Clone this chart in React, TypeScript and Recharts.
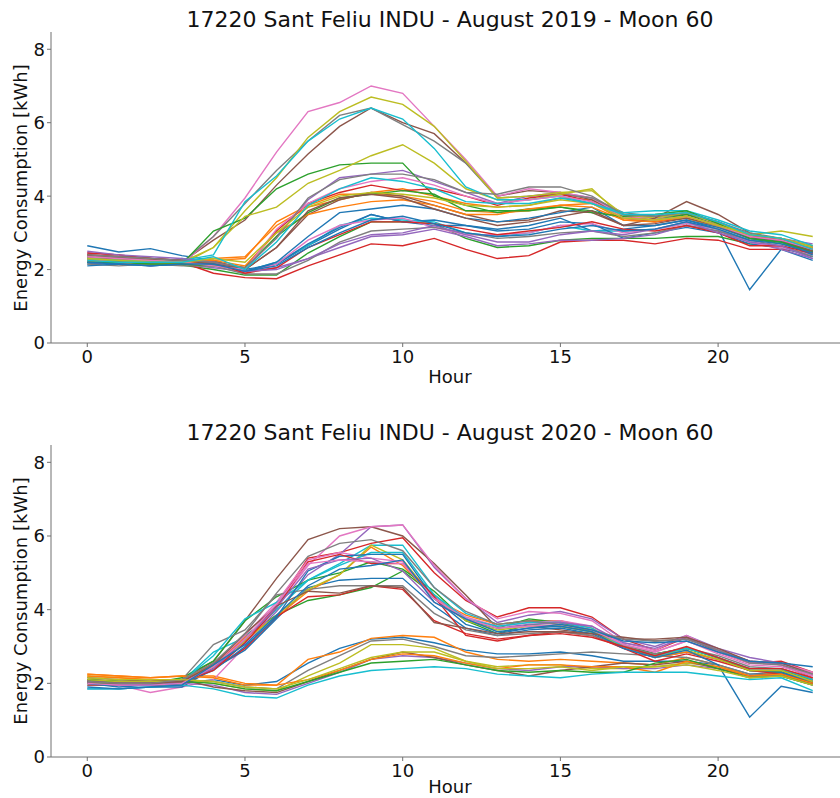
import { LineChart, Line, XAxis, YAxis } from "recharts";

const hours = [0, 1, 2, 3, 4, 5, 6, 7, 8, 9, 10, 11, 12, 13, 14, 15, 16, 17, 18, 19, 20, 21, 22, 23];
const xTicks = [0, 5, 10, 15, 20];
const yTicks = [0, 2, 4, 6, 8];
const tab10 = ["#1f77b4", "#ff7f0e", "#2ca02c", "#d62728", "#9467bd", "#8c564b", "#e377c2", "#7f7f7f", "#bcbd22", "#17becf"];

// one row per day of August, 24 hourly readings each
const aug2019 = [
  [2.65,2.48,2.57,2.38,2.25,1.95,2.15,2.65,3.1,3.5,3.3,3.35,3.2,3.1,3.2,3.4,3.05,3.1,3.2,3.35,3.1,1.45,2.55,2.25],
  [2.3,2.25,2.2,2.15,2.3,2.35,3.2,3.7,3.9,4.1,4.2,4.0,3.8,3.7,3.75,3.95,3.9,3.45,3.35,3.4,3.15,2.85,2.8,2.6],
  [2.2,2.18,2.15,2.12,2.0,1.85,1.85,2.45,2.9,3.3,3.3,3.25,2.85,2.6,2.65,2.8,2.85,2.85,2.85,2.9,2.9,2.7,2.6,2.4],
  [2.35,2.3,2.25,2.2,1.9,1.78,1.75,2.1,2.4,2.7,2.65,2.85,2.55,2.3,2.38,2.75,2.8,2.8,2.7,2.85,2.8,2.55,2.55,2.45],
  [2.45,2.4,2.3,2.25,2.2,2.0,2.9,3.9,4.5,4.6,4.7,4.4,4.1,3.8,4.0,4.1,3.95,3.5,3.4,3.5,3.3,2.95,2.85,2.7],
  [2.4,2.35,2.3,2.2,2.8,3.35,4.3,5.15,5.9,6.4,6.0,5.7,4.9,4.0,4.15,4.1,3.9,3.5,3.45,3.55,3.3,2.9,2.75,2.55],
  [2.3,2.25,2.2,2.15,2.9,3.95,5.2,6.3,6.55,7.0,6.8,5.9,5.0,4.0,4.2,4.1,3.95,3.45,3.4,3.45,3.25,2.9,2.8,2.6],
  [2.35,2.3,2.25,2.2,2.9,3.8,4.7,5.5,6.2,6.4,5.95,5.5,4.9,3.95,4.0,4.05,3.95,3.55,3.45,3.5,3.3,2.95,2.8,2.55],
  [2.3,2.25,2.2,2.15,2.6,3.6,4.5,5.6,6.3,6.7,6.5,5.9,4.95,3.95,4.0,4.1,4.15,3.5,3.4,3.55,3.25,2.95,2.85,2.65],
  [2.2,2.2,2.15,2.3,2.2,1.95,2.2,2.65,3.2,3.4,3.35,3.3,3.0,2.9,3.0,3.2,3.05,3.05,3.1,3.25,3.1,2.8,2.75,2.5],
  [2.15,2.2,2.1,2.15,2.25,2.0,2.15,2.7,3.15,3.5,3.3,3.2,3.2,3.05,3.1,3.3,3.25,2.85,3.0,3.15,3.0,2.7,2.6,2.35],
  [2.25,2.2,2.25,2.2,2.25,2.3,3.3,3.75,4.05,4.05,4.0,3.85,3.6,3.55,3.6,3.75,3.8,3.35,3.3,3.45,3.2,2.9,2.8,2.55],
  [2.3,2.25,2.25,2.15,3.05,3.4,4.2,4.6,4.85,4.9,4.9,4.0,3.75,3.55,3.65,3.7,3.6,3.4,3.35,3.5,3.2,2.85,2.7,2.5],
  [2.4,2.35,2.3,2.25,2.2,2.05,3.05,3.8,4.1,4.3,4.15,4.2,4.0,3.75,3.95,4.05,3.85,3.4,3.3,3.4,3.2,2.85,2.8,2.6],
  [2.2,2.15,2.15,2.15,2.05,1.95,2.05,2.3,2.6,2.9,2.95,3.1,2.9,2.65,2.7,2.8,2.8,2.85,2.95,3.2,3.05,2.75,2.55,2.3],
  [2.3,2.3,2.25,2.15,2.1,2.0,2.6,3.5,3.9,4.1,4.0,3.75,3.5,3.3,3.35,3.6,3.55,3.2,3.4,3.85,3.5,3.0,2.8,2.45],
  [2.25,2.2,2.1,2.2,2.15,1.9,2.15,2.8,3.2,3.35,3.4,3.15,2.95,2.95,3.0,3.2,3.25,3.0,3.1,3.25,3.1,2.75,2.6,2.4],
  [2.15,2.1,2.15,2.1,2.1,1.88,1.88,2.25,2.75,3.05,3.1,3.15,3.0,2.85,2.9,3.0,3.05,2.9,3.0,3.2,3.05,2.8,2.65,2.35],
  [2.3,2.25,2.25,2.2,2.6,3.45,3.7,4.35,4.7,5.1,5.4,4.9,4.2,3.9,3.9,4.05,4.2,3.4,3.35,3.4,3.2,2.95,3.05,2.9],
  [2.3,2.25,2.2,2.25,2.4,3.85,4.55,5.5,6.1,6.4,6.1,5.3,4.25,3.9,3.9,4.0,3.8,3.55,3.6,3.6,3.35,3.05,2.95,2.65],
  [2.1,2.15,2.1,2.15,2.15,1.95,2.2,2.9,3.55,3.65,3.75,3.65,3.4,3.3,3.4,3.55,3.7,3.2,3.2,3.35,3.15,2.85,2.75,2.4],
  [2.25,2.2,2.2,2.15,2.25,2.1,3.0,3.5,3.7,3.85,3.9,3.75,3.5,3.5,3.65,3.75,3.7,3.35,3.3,3.45,3.2,2.9,2.85,2.55],
  [2.2,2.2,2.15,2.15,2.1,2.05,2.9,3.55,3.95,4.05,4.15,4.05,3.6,3.6,3.6,3.7,3.55,3.45,3.5,3.6,3.25,2.85,2.75,2.5],
  [2.45,2.4,2.3,2.25,2.2,1.9,2.05,2.6,2.95,3.3,3.3,3.25,3.1,2.95,3.05,3.15,3.3,3.1,3.05,3.2,3.0,2.65,2.65,2.45],
  [2.5,2.4,2.35,2.3,2.2,1.95,2.0,2.3,2.7,2.95,3.0,3.2,2.95,2.75,2.75,2.95,3.05,2.95,3.1,3.3,3.0,2.75,2.65,2.3],
  [2.4,2.35,2.3,2.25,2.15,2.0,2.6,3.6,3.95,4.05,3.95,3.65,3.4,3.2,3.3,3.45,3.6,3.2,3.25,3.4,3.2,2.9,2.8,2.5],
  [2.35,2.3,2.25,2.2,2.1,2.0,3.1,3.8,4.2,4.4,4.5,4.3,4.0,3.8,3.9,4.0,3.85,3.4,3.35,3.45,3.2,2.9,2.8,2.55],
  [2.4,2.35,2.3,2.25,2.2,2.05,2.85,3.95,4.45,4.6,4.6,4.45,4.1,4.05,4.25,4.25,4.0,3.5,3.45,3.55,3.3,3.0,2.85,2.6],
  [2.3,2.25,2.2,2.2,2.3,2.2,3.0,3.7,4.0,4.1,4.05,3.95,3.75,3.7,3.75,3.9,3.8,3.4,3.35,3.45,3.2,2.95,2.85,2.6],
  [2.25,2.2,2.2,2.2,2.35,2.0,2.75,3.75,4.2,4.5,4.4,4.2,3.85,3.8,3.8,3.95,3.8,3.5,3.5,3.55,3.3,2.95,2.85,2.55],
  [2.2,2.15,2.1,2.15,2.15,1.95,2.1,2.6,3.0,3.35,3.45,3.25,3.0,2.9,2.95,3.1,3.2,3.05,3.1,3.3,3.1,2.8,2.7,2.45],
];

const aug2020 = [
  [2.05,2.0,1.95,2.0,2.1,1.95,2.05,2.55,2.95,3.2,3.25,3.1,2.9,2.8,2.8,2.85,2.75,2.6,2.6,2.6,2.5,2.25,2.3,2.05],
  [2.25,2.2,2.15,2.2,2.2,2.0,1.95,2.65,2.85,3.22,3.3,3.25,2.85,2.65,2.6,2.65,2.6,2.55,2.5,2.7,2.5,2.2,2.3,2.05],
  [2.1,2.05,2.05,2.1,2.45,3.3,3.85,4.25,4.4,4.6,5.05,4.4,3.7,3.35,3.6,3.55,3.4,3.05,2.8,2.95,2.7,2.35,2.3,2.0],
  [2.0,1.95,1.95,2.0,2.55,3.2,4.1,5.4,5.55,5.8,5.95,5.0,4.25,3.8,4.05,4.05,3.8,3.2,2.9,3.25,2.85,2.55,2.6,2.3],
  [2.05,2.0,2.0,2.1,2.4,3.1,3.95,4.95,5.5,6.25,6.3,5.15,4.3,3.65,3.85,3.95,3.75,3.2,3.0,3.3,2.95,2.7,2.55,2.25],
  [2.1,2.05,2.05,2.1,2.6,3.7,4.85,5.9,6.2,6.25,6.0,5.25,4.4,3.5,3.55,3.45,3.35,3.25,3.15,3.2,2.9,2.6,2.5,2.15],
  [2.0,1.95,1.75,1.9,2.1,3.0,4.1,5.2,6.0,6.25,6.3,5.2,4.3,3.75,3.95,3.9,3.7,3.1,2.9,3.3,2.9,2.6,2.55,2.3],
  [2.1,2.05,2.05,2.1,2.05,1.9,1.85,2.35,2.75,3.15,3.2,3.0,2.75,2.7,2.75,2.8,2.85,2.8,2.75,2.7,2.5,2.25,2.25,2.1],
  [2.2,2.15,2.1,2.1,2.0,1.85,1.8,2.2,2.55,3.05,3.05,2.95,2.6,2.45,2.5,2.5,2.4,2.4,2.45,2.55,2.45,2.2,2.2,2.0],
  [1.95,1.95,2.0,2.05,2.85,3.25,4.0,4.8,5.25,5.75,5.75,4.6,3.9,3.6,3.7,3.65,3.45,3.0,2.75,2.95,2.7,2.4,2.4,2.1],
  [1.85,1.85,1.9,1.9,2.4,2.9,3.75,4.6,4.8,4.85,4.85,4.1,3.5,3.3,3.45,3.5,3.35,2.95,2.7,2.85,2.65,2.35,2.3,2.05],
  [2.2,2.15,2.1,2.1,2.5,3.25,3.8,4.5,4.95,5.7,5.2,4.3,3.85,3.6,3.7,3.7,3.5,3.0,2.7,2.85,2.65,2.4,2.4,2.15],
  [2.1,2.05,2.0,2.15,2.6,3.7,4.35,4.8,5.0,5.3,5.1,4.5,3.7,3.5,3.75,3.65,3.4,3.05,2.8,2.95,2.7,2.35,2.35,2.1],
  [1.95,1.95,1.95,1.95,2.4,2.95,3.8,4.35,4.4,4.65,4.55,3.7,3.35,3.2,3.3,3.4,3.3,2.95,2.6,2.8,2.6,2.35,2.25,2.0],
  [2.0,1.95,1.95,2.0,1.95,1.75,1.7,2.0,2.3,2.65,2.75,2.7,2.55,2.4,2.35,2.45,2.45,2.4,2.4,2.5,2.4,2.2,2.2,1.95],
  [2.15,2.1,2.05,2.1,1.9,1.8,1.75,2.05,2.35,2.65,2.85,2.7,2.5,2.35,2.2,2.35,2.45,2.55,2.5,2.6,2.4,2.2,2.25,2.0],
  [2.05,2.0,2.05,2.0,2.5,3.3,4.2,5.35,5.55,5.4,5.3,4.35,3.8,3.55,3.65,3.7,3.55,3.05,2.85,3.15,2.8,2.5,2.45,2.2],
  [2.0,2.0,2.0,2.1,3.05,3.45,4.4,4.55,4.65,4.65,4.65,3.9,3.45,3.3,3.35,3.4,3.3,3.0,2.8,2.95,2.75,2.45,2.4,2.1],
  [2.1,2.05,2.05,2.05,2.45,3.15,3.85,4.55,4.95,5.75,5.35,4.3,3.7,3.45,3.55,3.55,3.4,3.0,2.75,2.9,2.65,2.35,2.35,2.05],
  [2.05,2.0,2.0,2.05,2.75,3.75,4.2,4.8,5.2,5.55,5.55,4.4,3.75,3.55,3.65,3.65,3.5,3.0,2.75,2.95,2.7,2.4,2.4,2.1],
  [2.0,1.9,1.95,2.0,2.35,3.0,3.8,5.05,5.45,5.5,5.5,4.3,3.6,3.35,3.5,3.55,3.4,2.95,2.7,2.9,2.5,1.08,1.92,1.75],
  [2.25,2.2,2.15,2.2,2.15,1.95,1.95,2.1,2.35,2.65,2.8,2.75,2.55,2.4,2.5,2.5,2.45,2.45,2.3,2.6,2.45,2.2,2.25,2.0],
  [2.0,2.0,2.0,2.05,2.0,1.85,1.8,2.05,2.3,2.55,2.6,2.65,2.5,2.35,2.3,2.35,2.3,2.3,2.55,2.65,2.4,2.15,2.2,1.95],
  [2.05,2.0,2.0,2.05,2.35,3.1,4.05,5.3,5.5,5.25,5.25,4.35,3.3,3.15,3.3,3.35,3.25,3.0,2.75,3.0,2.7,2.4,2.4,2.15],
  [2.05,2.0,2.0,2.05,2.4,3.2,4.05,5.1,5.35,5.4,5.05,4.2,3.75,3.5,3.6,3.65,3.55,3.1,2.95,3.25,2.9,2.6,2.5,2.2],
  [2.05,2.0,2.0,2.05,2.5,3.35,4.1,4.5,4.45,4.65,4.6,3.65,3.5,3.35,3.4,3.4,3.35,3.2,3.2,3.25,2.95,2.6,2.55,2.25],
  [2.0,1.95,1.95,2.0,2.45,3.2,4.15,5.25,5.35,5.3,5.25,4.3,3.75,3.5,3.55,3.6,3.45,3.05,2.85,3.15,2.85,2.55,2.5,2.2],
  [2.05,2.0,2.0,2.1,2.55,3.35,4.45,5.45,5.8,5.9,5.6,4.6,3.95,3.6,3.7,3.6,3.45,3.2,3.15,3.2,2.9,2.55,2.5,2.25],
  [2.15,2.1,2.1,2.1,2.05,1.9,1.85,2.1,2.4,2.7,2.85,2.85,2.6,2.4,2.4,2.45,2.35,2.45,2.45,2.5,2.35,2.15,2.2,1.95],
  [1.85,1.85,1.9,1.95,1.85,1.65,1.6,1.95,2.2,2.35,2.4,2.45,2.4,2.25,2.2,2.15,2.25,2.3,2.3,2.3,2.2,2.1,2.15,1.8],
  [1.9,1.85,1.9,1.95,2.5,3.05,3.85,4.65,5.1,5.2,5.35,4.2,3.75,3.4,3.5,3.6,3.45,3.15,3.1,3.15,2.85,2.6,2.55,2.45],
];

const FONT = "'DejaVu Sans', sans-serif";
const AXIS = "#707070";

function toRows(days: number[][]) {
  return hours.map((h, i) => {
    const row: Record<string, number> = { hour: h };
    days.forEach((d, j) => { row["d" + j] = d[i]; });
    return row;
  });
}

function Panel({ title, days, top, height, mTop, mBottom, titleY, hourY }:
  { title: string; days: number[][]; top: number; height: number; mTop: number; mBottom: number; titleY: number; hourY: number }) {
  const rows = toRows(days);
  const plotMid = (mTop + (height - mBottom - 30)) / 2;
  const txt = { position: "absolute" as const, fontFamily: FONT, color: "#111", whiteSpace: "nowrap" as const, lineHeight: 1 };
  return (
    <div style={{ position: "absolute", left: 0, top, width: 840, height, overflow: "hidden" }}>
      <LineChart width={860} height={height} data={rows} margin={{ top: mTop, right: 11, bottom: mBottom, left: 0 }}>
        <XAxis dataKey="hour" type="number" domain={[-1.15, 24.15]} ticks={xTicks} allowDataOverflow
          stroke={AXIS} tickSize={4} tickMargin={3} height={30}
          tick={{ fill: "#111", fontSize: 18, fontFamily: FONT }} />
        <XAxis xAxisId="top" orientation="top" type="number" domain={[-1.15, 24.15]} tick={false} tickLine={false} height={0} stroke={AXIS} />
        <YAxis type="number" domain={[0, 8.47]} ticks={yTicks} allowDataOverflow width={51}
          stroke={AXIS} tickSize={4} tickMargin={2}
          tick={{ fill: "#111", fontSize: 18, fontFamily: FONT }} />
        {days.map((_, j) => (
          <Line key={j} dataKey={"d" + j} stroke={tab10[j % 10]} strokeWidth={1.4} dot={false} isAnimationActive={false} />
        ))}
      </LineChart>
      <div style={{ ...txt, left: 450, top: titleY, transform: "translate(-50%, -50%)", fontSize: 22 }}>{title}</div>
      <div style={{ ...txt, left: 450, top: hourY, transform: "translate(-50%, -50%)", fontSize: 18 }}>Hour</div>
      <div style={{ ...txt, left: 21, top: plotMid, transform: "translate(-50%, -50%) rotate(-90deg)", fontSize: 18 }}>Energy Consumption [kWh]</div>
    </div>
  );
}

export default function App() {
  return (
    <div style={{ position: "absolute", left: 0, top: 0, width: 840, height: 798, overflow: "hidden", background: "#fff" }}>
      <Panel title="17220 Sant Feliu INDU - August 2019 - Moon 60" days={aug2019} top={0} height={399} mTop={32} mBottom={26} titleY={20} hourY={377} />
      <Panel title="17220 Sant Feliu INDU - August 2020 - Moon 60" days={aug2020} top={400} height={398} mTop={45} mBottom={11} titleY={33} hourY={387} />
    </div>
  );
}
